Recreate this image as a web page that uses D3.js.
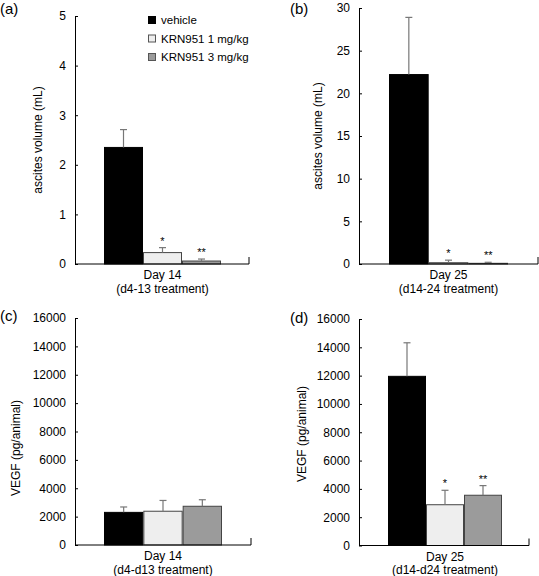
<!DOCTYPE html>
<html><head><meta charset="utf-8">
<script src="https://cdn.jsdelivr.net/npm/d3@7"></script>
<style>
body{margin:0;background:#fff;}
text{font-family:"Liberation Sans",Arial,Helvetica,sans-serif;fill:#000;}
</style></head>
<body><svg id="c" width="539" height="576"></svg>
<script>
// ---- data ----
const groups = ["vehicle", "KRN951 1 mg/kg", "KRN951 3 mg/kg"];
const groupColors = ["#000000", "#eeeeee", "#9b9b9b"];
const stars = ["", "*", "**"];

const ascitesDay14 = [2.35, 0.23, 0.06];
const ascitesDay14Err = [2.71, 0.33, 0.10];
const ascitesDay25 = [22.2, 0.15, 0.08];
const ascitesDay25Err = [28.9, 0.45, 0.2];
const vegfDay14 = [2300, 2380, 2730];
const vegfDay14Err = [2680, 3140, 3190];
const vegfDay25 = [11950, 2880, 3550];
const vegfDay25Err = [14320, 3900, 4230];
const starsDay14Vegf = ["", "", ""];

const ascitesTicks = [0, 1, 2, 3, 4, 5];
const ascitesTicksB = [0, 5, 10, 15, 20, 25, 30];
const vegfTicks = [0, 2000, 4000, 6000, 8000, 10000, 12000, 14000, 16000];

const panelLabels = ["(a)", "(b)", "(c)", "(d)"];
const yTitles = ["ascites volume (mL)", "ascites volume (mL)", "VEGF (pg/animal)", "VEGF (pg/animal)"];
const xLabels = [["Day 14", "(d4-13 treatment)"], ["Day 25", "(d14-24 treatment)"],
                 ["Day 14", "(d4-d13 treatment)"], ["Day 25", "(d14-d24 treatment)"]];

// ---- layout ----
const svg = d3.select("#c");
const panels = [
  {vals: ascitesDay14, err: ascitesDay14Err, st: stars, ticks: ascitesTicks,
   ax: 75, top: 16, bot: 264, right: 249, b0: 104, b1: 221, lab: [0, 14], yt: [38, 140], legend: true},
  {vals: ascitesDay25, err: ascitesDay25Err, st: stars, ticks: ascitesTicksB,
   ax: 359, top: 8, bot: 264, right: 538, b0: 389, b1: 508, lab: [290, 14], yt: [318, 136]},
  {vals: vegfDay14, err: vegfDay14Err, st: starsDay14Vegf, ticks: vegfTicks,
   ax: 75, top: 318, bot: 545, right: 251, b0: 104, b1: 222, lab: [0, 321], yt: [16, 448]},
  {vals: vegfDay25, err: vegfDay25Err, st: stars, ticks: vegfTicks,
   ax: 359, top: 319, bot: 545.5, right: 529, b0: 388, b1: 502, lab: [290, 323], yt: [302, 434]}
];

panels.forEach((p, i) => {
  const g = svg.append("g");
  const y = d3.scaleLinear().domain([p.ticks[0], p.ticks[p.ticks.length - 1]]).range([p.bot, p.top]);
  const x = d3.scaleBand().domain(groups).range([p.b0, p.b1]).padding(0);

  // y axis
  const yAxis = d3.axisLeft(y).tickValues(p.ticks).tickFormat(d3.format("d"))
    .tickSizeInner(-3).tickSizeOuter(0).tickPadding(9);
  const ya = g.append("g").attr("transform", `translate(${p.ax},0)`).call(yAxis);
  ya.select(".domain").attr("stroke", "#000").attr("stroke-width", 1);
  ya.selectAll(".tick line").attr("stroke", "#000");
  ya.selectAll(".tick text").attr("font-size", 12).attr("font-family", '"Liberation Sans",Arial,sans-serif').attr("fill", "#000");

  // bars
  g.selectAll("rect.bar").data(p.vals).join("rect")
    .attr("x", (d, j) => x(groups[j]) + 0.5)
    .attr("y", d => y(d))
    .attr("width", x.bandwidth() - 1)
    .attr("height", d => y(0) - y(d))
    .attr("fill", (d, j) => groupColors[j])
    .attr("stroke", (d, j) => j === 0 ? "#000" : "#444")
    .attr("stroke-width", 1);

  // error bars
  p.vals.forEach((v, j) => {
    const cx = x(groups[j]) + x.bandwidth() / 2;
    g.append("line").attr("x1", cx).attr("x2", cx).attr("y1", y(v)).attr("y2", y(p.err[j]))
      .attr("stroke", "#777").attr("stroke-width", 1.2);
    g.append("line").attr("x1", cx - 3.5).attr("x2", cx + 3.5).attr("y1", y(p.err[j])).attr("y2", y(p.err[j]))
      .attr("stroke", "#777").attr("stroke-width", 1.2);
    if (p.st[j]) {
      g.append("text").attr("x", cx).attr("y", y(p.err[j]) - 3).attr("text-anchor", "middle")
        .attr("font-size", 11).attr("fill", "#000").text(p.st[j]);
    }
  });

  // x axis
  g.append("line").attr("x1", p.ax).attr("x2", p.right).attr("y1", p.bot).attr("y2", p.bot)
    .attr("stroke", "#000");
  g.append("line").attr("x1", p.right).attr("x2", p.right).attr("y1", p.bot).attr("y2", p.bot - 7)
    .attr("stroke", "#000");

  const xc = (p.b0 + p.b1) / 2;
  g.append("text").attr("x", xc).attr("y", p.bot + 15).attr("text-anchor", "middle")
    .attr("font-size", 12).text(xLabels[i][0]);
  g.append("text").attr("x", xc).attr("y", p.bot + 28.5).attr("text-anchor", "middle")
    .attr("font-size", 12).text(xLabels[i][1]);

  // y title
  g.append("text").attr("transform", `translate(${p.yt[0]},${p.yt[1]}) rotate(-90)`)
    .attr("text-anchor", "middle").attr("dominant-baseline", "central")
    .attr("font-size", 12).text(yTitles[i]);

  // panel label
  g.append("text").attr("x", p.lab[0]).attr("y", p.lab[1]).attr("font-size", 15).text(panelLabels[i]);

  if (p.legend) {
    const lg = g.append("g").attr("transform", "translate(148,20)");
    groups.forEach((name, j) => {
      lg.append("rect").attr("x", 0.5).attr("y", j * 18.5 - 3.5).attr("width", 7).attr("height", 7)
        .attr("fill", groupColors[j]).attr("stroke", j === 0 ? "#000" : "#555");
      lg.append("text").attr("x", 13).attr("y", j * 18.5).attr("dominant-baseline", "central")
        .attr("font-size", 11.5).text(name);
    });
  }
});
</script></body></html>
